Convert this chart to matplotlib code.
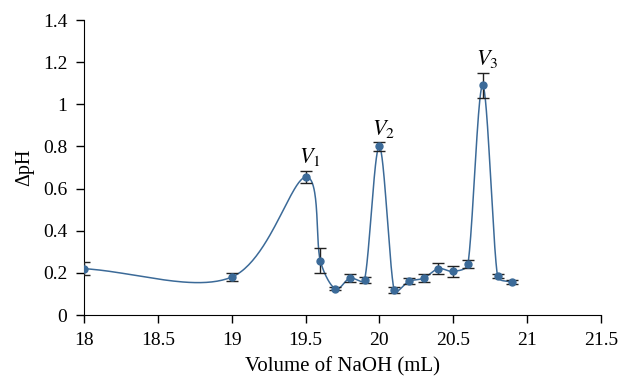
import matplotlib
matplotlib.use('Agg')
import matplotlib.pyplot as plt
import numpy as np
from matplotlib.ticker import FuncFormatter

# Dane
volume = [18.0, 19.0, 19.5, 19.6, 19.7, 19.8, 19.9, 20.0, 20.1, 20.2,
          20.3, 20.4, 20.5, 20.6, 20.7, 20.8, 20.9]
dph = [0.22, 0.18, 0.655, 0.258, 0.125, 0.175, 0.167, 0.80, 0.118, 0.16,
       0.175, 0.22, 0.207, 0.243, 1.09, 0.185, 0.155]
dph_err = [0.03, 0.02, 0.03, 0.06, 0.008, 0.02, 0.015, 0.02, 0.015, 0.015,
           0.02, 0.025, 0.025, 0.02, 0.06, 0.01, 0.01]
peak_labels = ['$V_1$', '$V_2$', '$V_3$']
peak_x = [19.5, 20.0, 20.7]


def smooth_line(x, y, sx=1.0, sy=1.0, n=50, f=1/6., cap=0.4):
    """Wygładzona linia Beziera (Catmull-Rom z ograniczeniem na krótkich odcinkach)"""
    p = np.column_stack([np.asarray(x) * sx, np.asarray(y) * sy])
    p = np.vstack([2 * p[0] - p[1], p, 2 * p[-1] - p[-2]])
    t = np.linspace(0, 1, n)[:, None]
    out = []
    for i in range(1, len(p) - 2):
        p0, p1, p2, p3 = p[i - 1], p[i], p[i + 1], p[i + 2]
        d12 = np.linalg.norm(p2 - p1)
        v1 = (p2 - p0) * f
        v2 = (p3 - p1) * f
        l1, l2 = np.linalg.norm(v1), np.linalg.norm(v2)
        if l1 > cap * d12:
            v1 = v1 * cap * d12 / l1
        if l2 > cap * d12:
            v2 = v2 * cap * d12 / l2
        c1 = p1 + v1
        c2 = p2 - v2
        seg = ((1 - t) ** 3 * p1 + 3 * (1 - t) ** 2 * t * c1
               + 3 * (1 - t) * t ** 2 * c2 + t ** 3 * p2)
        out.append(seg)
    out = np.vstack(out)
    return out[:, 0] / sx, out[:, 1] / sy


plt.rcParams['font.family'] = ['Liberation Serif', 'DejaVu Serif']
plt.rcParams['mathtext.fontset'] = 'stix'

color = '#3b6a98'
fig = plt.figure(figsize=(6.25, 3.81), dpi=100)
ax = fig.add_axes([0.1344, 0.1732, 0.827, 0.774])

# skala pikseli na jednostkę (x: 0.5 -> ~74 px, y: 0.2 -> ~42 px)
lx, ly = smooth_line(volume, dph, sx=147.8, sy=210.7)
ax.plot(lx, ly, color=color, linewidth=1.1, zorder=2)
ax.errorbar(volume, dph, yerr=dph_err, fmt='none', ecolor='#222222',
            elinewidth=1.0, capsize=4, capthick=1.0, zorder=3)
ax.plot(volume, dph, 'o', color=color, markersize=5, zorder=4)

for lab, px in zip(peak_labels, peak_x):
    i = volume.index(px)
    ax.annotate(lab, (px, dph[i] + dph_err[i]), xytext=(3, 2),
                textcoords='offset points', ha='center', va='bottom',
                fontsize=16)

ax.set_xlim(18, 21.5)
ax.set_ylim(0, 1.4)
ax.set_xticks(np.arange(18, 21.51, 0.5))
ax.set_yticks(np.arange(0, 1.41, 0.2))
ax.xaxis.set_major_formatter(FuncFormatter(lambda v, p: f'{v:g}'))
ax.yaxis.set_major_formatter(FuncFormatter(lambda v, p: f'{v:g}'))
ax.tick_params(direction='out', length=6, width=1, pad=6, labelsize=14)
for s in ['top', 'right']:
    ax.spines[s].set_visible(False)
ax.set_xlabel('Volume of NaOH (mL)', fontsize=15, labelpad=6)
ax.set_ylabel('ΔpH', fontsize=14.5, labelpad=6)

plt.savefig('out.png', dpi=100)
